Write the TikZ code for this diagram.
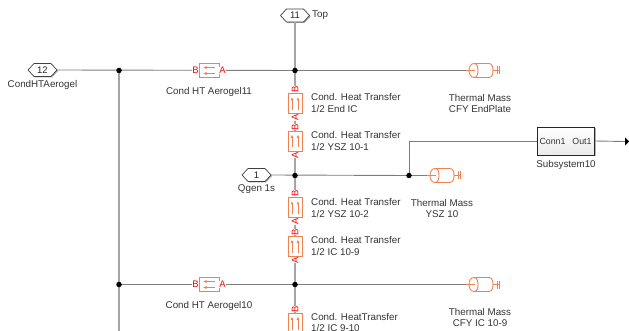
\documentclass[tikz,border=0pt]{standalone}
\usepackage{fontspec}
\setmainfont{Liberation Sans}
\usetikzlibrary{shapes.misc,arrows.meta}
\definecolor{ssorange}{RGB}{240,130,80}
\definecolor{sswire}{RGB}{125,125,125}
\definecolor{sswirev}{RGB}{165,165,165}
\tikzset{
  x=1pt,y=-1pt,
  wire/.style={draw=sswire,line width=0.9pt},
  vwire/.style={draw=sswirev,line width=1.3pt},
  dotj/.style={circle,fill=black,inner sep=0pt,minimum size=5.5pt},
  lbl/.style={font=\fontsize{9.8}{11.5}\selectfont,text=black!80,align=center,inner sep=0pt},
  lbll/.style={lbl,align=left,anchor=west},
  orangeline/.style={draw=ssorange,line width=0.9pt},
  port/.style={font=\fontsize{9.5}{10}\selectfont,text=red,inner sep=0pt},
  hexport/.style={font=\fontsize{9.5}{10}\selectfont,text=black!85,inner sep=0pt},
}
\newcommand{\hexnode}[4]{% name, x, y, text
  \fill[black!35] (#2-14.5+1,#3+1) -- (#2-8.5+1,#3-6.5+1) -- (#2+8.5+1,#3-6.5+1) -- (#2+14.5+1,#3+1) -- (#2+8.5+1,#3+6.5+1) -- (#2-8.5+1,#3+6.5+1) -- cycle;
  \filldraw[fill=white,draw=black!75,line width=0.7pt] (#2-14.5,#3) -- (#2-8.5,#3-6.5) -- (#2+8.5,#3-6.5) -- (#2+14.5,#3) -- (#2+8.5,#3+6.5) -- (#2-8.5,#3+6.5) -- cycle;
  \node[hexport,minimum width=29pt,minimum height=13pt] (#1) at (#2,#3) {#4};
}
\newcommand{\hblock}[3]{% name, cx, cy
  \draw[orangeline] (#2-14,#3) -- (#2+14,#3);
  \node[draw=ssorange,fill=white,line width=0.9pt,minimum width=20pt,minimum height=14pt,inner sep=0pt] (#1) at (#2,#3) {};
  \draw[orangeline,line width=0.8pt,-{Latex[length=3.5pt,width=3pt]}] (#2+6,#3-3) -- (#2-6,#3-3);
  \draw[orangeline,line width=0.8pt,-{Latex[length=3.5pt,width=3pt]}] (#2+6,#3+3) -- (#2-6,#3+3);
  \node[port,fill=white,inner sep=0.3pt] at (#2-13.5,#3) {B};
  \node[port,fill=white,inner sep=0.3pt] at (#2+13.5,#3) {A};
}
\newcommand{\vblock}[3]{% name, cx, cy
  \node[draw=ssorange,fill=white,line width=0.9pt,minimum width=14pt,minimum height=20pt,inner sep=0pt] (#1) at (#2,#3) {};
  \draw[orangeline,line width=0.8pt,-{Latex[length=3.5pt,width=3pt]}] (#2-3,#3+6.5) -- (#2-3,#3-6.5);
  \draw[orangeline,line width=0.8pt,-{Latex[length=3.5pt,width=3pt]}] (#2+3,#3+6.5) -- (#2+3,#3-6.5);
  \node[port,rotate=90,fill=white,inner sep=0.3pt] at (#2,#3-14) {B};
  \node[port,rotate=90,fill=white,inner sep=0.3pt] at (#2,#3+14) {A};
}
\newcommand{\tmass}[3]{% name, left x, y
  \coordinate (#1) at (#2,#3);
  \draw[orangeline] (#2-2,#3) -- (#2+6,#3);
  \draw[orangeline,fill=white] (#2+6,#3-7) -- (#2+21,#3-7) to[out=0,in=90] (#2+25,#3) to[out=-90,in=0] (#2+21,#3+7) -- (#2+6,#3+7);
  \draw[orangeline] (#2+6,#3-7) to[out=180,in=90] (#2+1,#3) to[out=-90,in=180] (#2+6,#3+7) to[out=0,in=-90] (#2+10,#3) to[out=90,in=0] (#2+6,#3-7);
  \draw[orangeline] (#2+1,#3) -- (#2+7,#3);
  \draw[orangeline] (#2+25,#3) -- (#2+32,#3);
  \draw[orangeline] (#2+29,#3-4) -- (#2+29,#3+4);
  \draw[orangeline] (#2+31.5,#3-4) -- (#2+31.5,#3+4);
}
\begin{document}
\begin{tikzpicture}
\useasboundingbox (0,0) rectangle (629,331);
% named junctions
\coordinate (j1) at (119,70.5);
\coordinate (j2) at (295,70.5);
\coordinate (j3) at (295,175.5);
\coordinate (j4) at (409,175.5);
\coordinate (j5) at (119,284.5);
\coordinate (j6) at (295,284.5);
\coordinate (bl) at (119,331);
\coordinate (br) at (295,331);
\coordinate (outend) at (629,141.5);
\coordinate (bend) at (409,141.5);
% wires
\hexnode{hexa}{42.5}{70}{12}
\hexnode{hexb}{295}{15.5}{11}
\hexnode{hexc}{256.5}{175}{1}
\draw[vwire] (j1) -- (bl);
\draw[vwire] (hexb.south) -- (br);
\draw[wire] (hexa.east) -- (j2) -- (466,70.5);
\draw[wire] (hexc.east) -- (j4) -- (427,175.5);
\draw[wire] (j4) -- (bend) -- (538,141.5);
\draw[wire] (j5) -- (466,284.5);
% blocks
\hblock{ba}{209}{70.5}
\hblock{bb}{209}{284.5}
\vblock{v1}{295}{103.5}
\vblock{v2}{295}{141}
\vblock{v3}{295}{207.5}
\vblock{v4}{295}{246}
\vblock{v5}{295}{323}
\tmass{m1}{468}{70.5}
\tmass{m2}{429}{175.5}
\tmass{m3}{468}{284.5}
% dots
\foreach \p in {j1,j2,j3,j4,j5,j6} \node[dotj] at (\p) {};
% subsystem
\fill[black!30] (538.5,128.5) rectangle (595.5,156.5);
\node[draw=black!85,line width=0.8pt,inner sep=0pt,minimum width=57pt,minimum height=28pt,top color=white,bottom color=black!8] (sub) at (566,141) {};
\node[lbl,font=\fontsize{8.8}{10}\selectfont] at (552.5,141) {Conn1};
\node[lbl,font=\fontsize{8.8}{10}\selectfont] at (582,141) {Out1};
\draw[wire] (sub.east) -- (625,141.5);
\fill[black] (625,137.5) -- (629,141.5) -- (625,145.5) -- cycle;
% labels
\node[lbl] (t1) at (42.5,85) {CondHTAerogel};
\node[lbl,anchor=west] (t2) at (312,15.5) {Top};
\node[lbl] (t3) at (209,92) {Cond HT Aerogel11};
\node[lbl] (t4) at (209,306) {Cond HT Aerogel10};
\node[lbl] (t5) at (256.5,189.5) {Qgen 1s};
\node[lbll] (t6) at (311,103) {Cond. Heat Transfer\\1/2 End IC};
\node[lbll] (t7) at (311,141) {Cond. Heat Transfer\\1/2 YSZ 10-1};
\node[lbll] (t8) at (311,208) {Cond. Heat Transfer\\1/2 YSZ 10-2};
\node[lbll] (t9) at (311,246) {Cond. Heat Transfer\\1/2 IC 10-9};
\node[lbll] (t10) at (311,322.5) {Cond. HeatTransfer\\1/2 IC 9-10};
\node[lbl] (t11) at (480,103.5) {Thermal Mass\\CFY EndPlate};
\node[lbl] (t12) at (442,208.5) {Thermal Mass\\YSZ 10};
\node[lbl] (t13) at (480,317.5) {Thermal Mass\\CFY IC 10-9};
\node[lbl] (t14) at (566,164.5) {Subsystem10};
\end{tikzpicture}
\end{document}
